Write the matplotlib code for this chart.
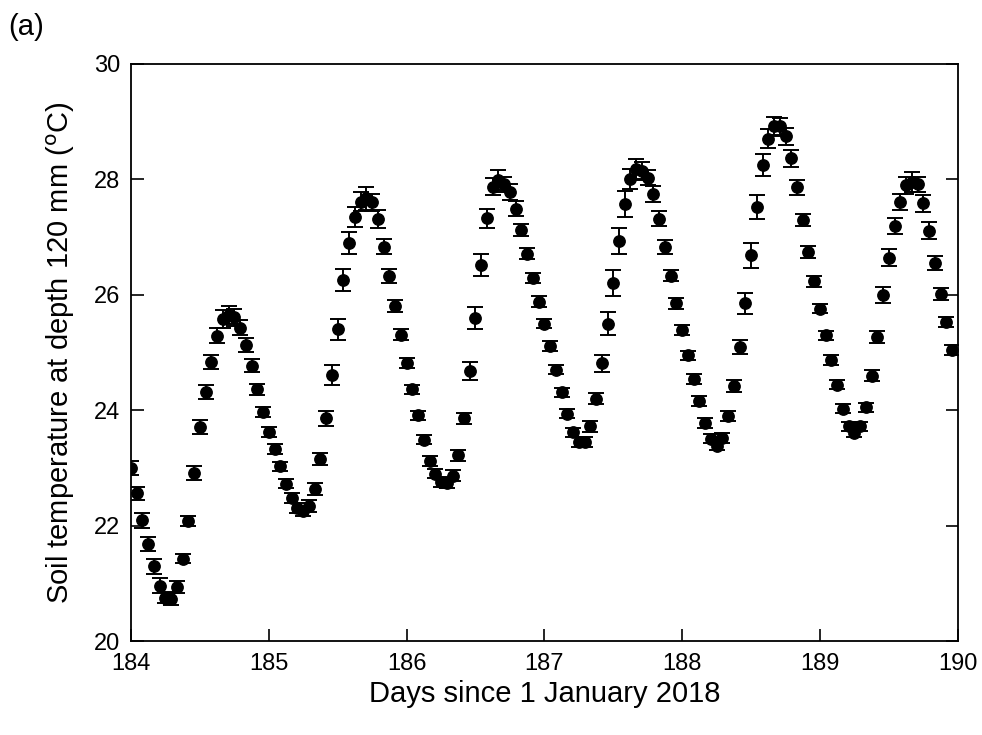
import numpy as np
import matplotlib
matplotlib.use("Agg")
import matplotlib.pyplot as plt

plt.rcParams['font.family'] = ['Liberation Sans', 'DejaVu Sans']

# hourly readings, day 184.0 .. 189.958
start_day = 184
hours = np.arange(144)

temp = [
    # day 184
    23.00, 22.56, 22.10, 21.69, 21.30, 20.96, 20.76, 20.73, 20.94, 21.43, 22.08, 22.91,
    23.71, 24.32, 24.84, 25.29, 25.58, 25.65, 25.61, 25.43, 25.13, 24.77, 24.36, 23.97,
    # day 185
    23.63, 23.33, 23.03, 22.73, 22.48, 22.31, 22.26, 22.34, 22.64, 23.16, 23.86, 24.61,
    25.40, 26.25, 26.90, 27.34, 27.61, 27.67, 27.60, 27.31, 26.83, 26.32, 25.80, 25.31,
    # day 186
    24.82, 24.36, 23.91, 23.49, 23.12, 22.90, 22.76, 22.74, 22.87, 23.22, 23.86, 24.68,
    25.59, 26.51, 27.32, 27.87, 27.98, 27.91, 27.77, 27.49, 27.12, 26.71, 26.29, 25.88,
    # day 187
    25.50, 25.11, 24.70, 24.31, 23.94, 23.62, 23.45, 23.45, 23.72, 24.20, 24.81, 25.50,
    26.20, 26.93, 27.57, 28.00, 28.17, 28.14, 28.02, 27.74, 27.31, 26.83, 26.33, 25.85,
    # day 188
    25.39, 24.95, 24.54, 24.16, 23.78, 23.51, 23.39, 23.52, 23.90, 24.42, 25.09, 25.85,
    26.68, 27.52, 28.24, 28.70, 28.91, 28.91, 28.74, 28.36, 27.86, 27.29, 26.74, 26.23,
    # day 189
    25.76, 25.30, 24.87, 24.44, 24.03, 23.72, 23.61, 23.72, 24.05, 24.60, 25.27, 26.00,
    26.64, 27.19, 27.61, 27.89, 27.95, 27.91, 27.58, 27.11, 26.55, 26.01, 25.53, 25.04,
]

err = [
    0.12, 0.12, 0.13, 0.12, 0.13, 0.13, 0.10, 0.10, 0.10, 0.08, 0.09, 0.12,
    0.115, 0.12, 0.12, 0.13, 0.15, 0.16, 0.15, 0.13, 0.12, 0.115, 0.10, 0.09,
    0.087, 0.08, 0.08, 0.08, 0.09, 0.09, 0.09, 0.10, 0.10, 0.10, 0.13, 0.17,
    0.18, 0.19, 0.19, 0.17, 0.16, 0.20, 0.15, 0.15, 0.13, 0.12, 0.10, 0.09,
    0.09, 0.08, 0.08, 0.08, 0.08, 0.08, 0.08, 0.08, 0.09, 0.10, 0.10, 0.15,
    0.19, 0.19, 0.17, 0.15, 0.17, 0.13, 0.14, 0.13, 0.10, 0.10, 0.09, 0.09,
    0.08, 0.08, 0.08, 0.08, 0.08, 0.08, 0.09, 0.09, 0.09, 0.10, 0.14, 0.20,
    0.22, 0.22, 0.22, 0.18, 0.17, 0.15, 0.13, 0.14, 0.13, 0.12, 0.10, 0.09,
    0.09, 0.08, 0.08, 0.08, 0.08, 0.08, 0.08, 0.08, 0.09, 0.10, 0.125, 0.18,
    0.21, 0.21, 0.19, 0.17, 0.16, 0.14, 0.15, 0.15, 0.13, 0.10, 0.10, 0.09,
    0.08, 0.08, 0.08, 0.08, 0.08, 0.08, 0.08, 0.08, 0.08, 0.09, 0.10, 0.14,
    0.15, 0.14, 0.14, 0.14, 0.17, 0.13, 0.15, 0.14, 0.12, 0.10, 0.09, 0.09,
]

days = start_day + hours / 24

fig = plt.figure(figsize=(9.82, 7.35), dpi=100)
ax = fig.add_axes([0.1334, 0.1273, 0.8419, 0.7863])

ax.errorbar(days, temp, yerr=err, fmt='o', color='black', ms=8.2,
            elinewidth=1.4, capsize=6, capthick=1.4)

ax.set_xlim(184, 190)
ax.set_ylim(20, 30)
ax.set_xticks(range(184, 191))
ax.set_yticks(range(20, 31, 2))
ax.tick_params(direction='in', length=9, width=1.2, labelsize=17, pad=8,
               right=True, top=False)
for s in ax.spines.values():
    s.set_linewidth(1.3)

ax.set_xlabel('Days since 1 January 2018', fontsize=21, labelpad=4)
ax.set_ylabel('Soil temperature at depth 120 mm ($^{\\rm o}$C)', fontsize=21, labelpad=12)
fig.text(0.008, 0.952, '(a)', fontsize=21)

fig.savefig('out.png', dpi=100)
